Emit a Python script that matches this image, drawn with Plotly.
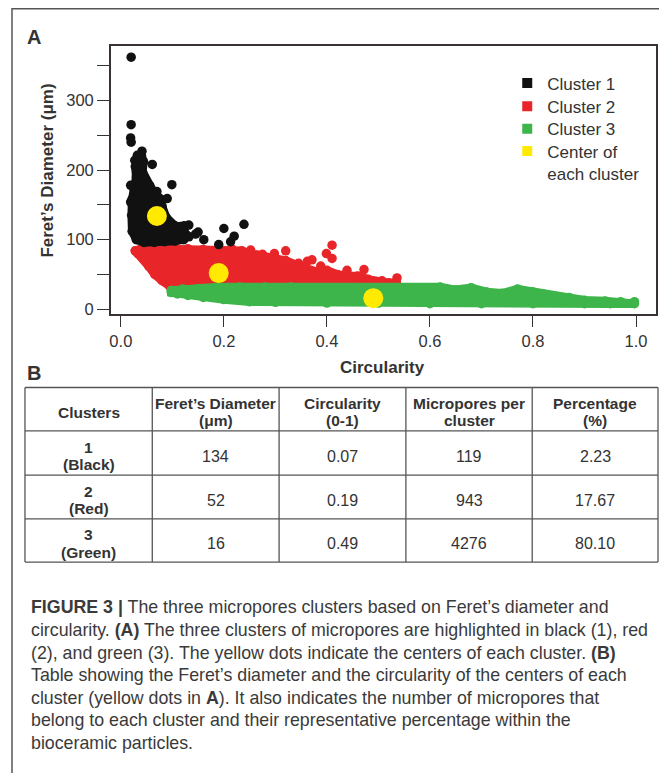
import plotly.graph_objects as go

# ---------------- data ----------------
# Cluster 1 (black): outline of the dense core + individual pores
c1_core_x = [0.022, 0.026, 0.030, 0.028, 0.033, 0.040, 0.044, 0.042, 0.048, 0.056, 0.066, 0.078, 0.080, 0.088, 0.105,
             0.122, 0.128, 0.122, 0.105, 0.085, 0.065, 0.045, 0.030, 0.022, 0.021]
c1_core_y = [158, 172, 190, 205, 217, 221, 212, 198, 186, 178, 166, 158, 148, 132, 120,
             114, 106, 100, 98, 97, 96, 96, 100, 112, 135]
c1_pts_x = [0.020, 0.020, 0.019, 0.020, 0.041, 0.032, 0.027, 0.034, 0.038, 0.061, 0.041, 0.019, 0.045, 0.048, 0.041,
            0.070, 0.099, 0.090, 0.019, 0.116, 0.132, 0.132, 0.150, 0.161, 0.190, 0.200, 0.213, 0.220, 0.239, 0.123, 0.145]
c1_pts_y = [362, 265, 246, 240, 227, 221, 214, 209, 201, 208, 195, 178, 183, 173, 173,
            169, 179, 159, 154, 119, 121, 104, 111, 100, 93, 116, 97, 105, 122, 120, 108]

# Cluster 2 (red)
c2_core_x = [0.028, 0.040, 0.070, 0.100, 0.130, 0.160, 0.190, 0.215, 0.235, 0.250, 0.265, 0.280, 0.300, 0.320, 0.340,
             0.360, 0.380, 0.400, 0.420, 0.440, 0.460, 0.480, 0.500, 0.520, 0.535,
             0.535, 0.450, 0.350, 0.250, 0.150, 0.105, 0.095, 0.080, 0.066, 0.054, 0.042, 0.033]
c2_core_y = [84, 87, 87, 87, 87, 86, 86, 87, 84, 80, 78, 75, 74, 70, 64,
             58, 54, 56, 50, 48, 48, 43, 39, 38, 38,
             32, 31, 31, 31, 31, 31, 33, 41, 50, 62, 74, 80]
c2_pts_x = [0.410, 0.399, 0.410, 0.362, 0.371, 0.320, 0.298, 0.275, 0.252, 0.472, 0.439, 0.507, 0.536, 0.481, 0.345, 0.388]
c2_pts_y = [92, 80, 73, 69, 71, 84, 80, 79, 85, 57, 56, 41, 45, 39, 66, 62]

# Cluster 3 (green)
c3_core_x = [0.098, 0.12, 0.15, 0.19, 0.23, 0.28, 0.33, 0.38, 0.43, 0.48, 0.52, 0.56, 0.59, 0.62, 0.65, 0.68, 0.71, 0.74,
             0.77, 0.80, 0.82, 0.84, 0.87, 0.90, 0.94, 0.97, 0.997,
             0.997, 0.95, 0.90, 0.80, 0.70, 0.60, 0.50, 0.40, 0.30, 0.25, 0.20, 0.16, 0.13, 0.11, 0.098]
c3_core_y = [27, 29, 30, 32, 32, 32, 32, 31, 30, 30, 30, 29, 29, 32, 28, 31, 25, 23,
             29, 25, 22, 19, 17, 13, 12, 11, 11,
             8, 8, 8, 8, 8, 8, 9, 9, 10, 11, 14, 17, 20, 22, 24]

# Cluster centers (yellow)
center_x = [0.07, 0.19, 0.49]
center_y = [134, 52, 16]

legend_names = ["Cluster 1", "Cluster 2", "Cluster 3", "Center of<br>each cluster"]

x_tick_vals = [0.0, 0.2, 0.4, 0.6, 0.8, 1.0]
x_tick_text = ["0.0", "0.2", "0.4", "0.6", "0.8", "1.0"]
y_tick_vals = [0, 100, 200, 300]
y_tick_text = ["0", "100", "200", "300"]

# Table B
table_header = ["Clusters", "Feret’s Diameter\n(μm)", "Circularity\n(0-1)", "Micropores per\ncluster", "Percentage\n(%)"]
table_clusters = ["1\n(Black)", "2\n(Red)", "3\n(Green)"]
table_feret = ["134", "52", "16"]
table_circ = ["0.07", "0.19", "0.49"]
table_count = ["119", "943", "4276"]
table_pct = ["2.23", "17.67", "80.10"]

caption_lines = [
    "<b>FIGURE 3 |</b> The three micropores clusters based on Feret’s diameter and",
    "circularity. <b>(A)</b> The three clusters of micropores are highlighted in black (1), red",
    "(2), and green (3). The yellow dots indicate the centers of each cluster. <b>(B)</b>",
    "Table showing the Feret’s diameter and the circularity of the centers of each",
    "cluster (yellow dots in <b>A</b>). It also indicates the number of micropores that",
    "belong to each cluster and their representative percentage within the",
    "bioceramic particles.",
]

# ---------------- styling ----------------
# page body has an 8px margin: the figure starts at (8, 8) of the window
OFF = 8
W, H = 667 - OFF, 777 - OFF
FONT = "Liberation Sans, Arial, Helvetica, sans-serif"
TXT = "#333333"
BLACK, RED, GREEN, YELLOW = "#111111", "#E8262A", "#3DB54A", "#FFEA00"
DOT = 9.5


def px(x):
    return (x - OFF) / W


def py(y):
    return 1 - (y - OFF) / H


fig = go.Figure()


def cloud(xs, ys, color):
    fig.add_trace(go.Scatter(
        x=list(xs) + list(xs[:1]), y=list(ys) + list(ys[:1]),
        mode="lines+markers", fill="toself", fillcolor=color,
        line=dict(color=color, width=8.5),
        marker=dict(color=color, size=DOT),
        showlegend=False, hoverinfo="skip"))


def dots(xs, ys, color, size=DOT):
    fig.add_trace(go.Scatter(
        x=xs, y=ys, mode="markers",
        marker=dict(color=color, size=size, line=dict(width=0)),
        showlegend=False, hoverinfo="skip"))


cloud(c2_core_x, c2_core_y, RED)
dots(c2_pts_x, c2_pts_y, RED)
cloud(c3_core_x, c3_core_y, GREEN)
cloud(c1_core_x, c1_core_y, BLACK)
dots(c1_pts_x, c1_pts_y, BLACK)
dots(center_x, center_y, YELLOW, size=20)

# one legend per entry so that the rows sit where the reference has them
legend_row_y = [83.3, 106.7, 129.3, 151.7]
legend_ids = ["legend", "legend2", "legend3", "legend4"]
for name, col, lid in zip(legend_names, [BLACK, RED, GREEN, YELLOW], legend_ids):
    fig.add_trace(go.Scatter(x=[None], y=[None], mode="markers", name=name, legend=lid,
                             marker=dict(symbol="square", size=10, color=col)))

axis_common = dict(showline=True, linecolor="#3a3333", linewidth=1.5, mirror=True,
                   showgrid=False, zeroline=False, ticks="outside", tickwidth=1.3,
                   tickcolor="#333333", tickfont=dict(size=16.5, color=TXT, family=FONT))

fig.update_layout(
    width=W, height=H, margin=dict(l=0, r=0, t=0, b=0),
    paper_bgcolor="white", plot_bgcolor="white",
    font=dict(family=FONT, color=TXT),
    xaxis=dict(domain=[px(110), px(656)], range=[-0.0194, 1.0388],
               tickmode="array", tickvals=x_tick_vals, ticktext=x_tick_text,
               ticklen=11, **axis_common),
    yaxis=dict(domain=[py(316), py(46)], range=[-7.3, 378.3],
               tickmode="array", tickvals=y_tick_vals, ticktext=y_tick_text,
               ticklen=12,
               minor=dict(dtick=50, tick0=0, ticklen=12, tickwidth=1.3, tickcolor="#333333", ticks="outside"),
               **axis_common),
)
legend_layout = {}
for lid, yc in zip(legend_ids, legend_row_y):
    legend_layout[lid] = dict(x=px(507), y=py(yc - 17.5), xanchor="left", yanchor="top",
                              bgcolor="rgba(0,0,0,0)", borderwidth=0, valign="top",
                              font=dict(size=17, color=TXT, family=FONT))
fig.update_layout(**legend_layout)

shapes = []
annotations = []

# outer frame (top and left)
shapes.append(dict(type="line", xref="paper", yref="paper", x0=px(11), x1=1, y0=py(8.75), y1=py(8.75),
                   line=dict(color="#555555", width=1.5)))
shapes.append(dict(type="line", xref="paper", yref="paper", x0=px(11), x1=px(11), y0=py(8), y1=0,
                   line=dict(color="#555555", width=1.5)))


def text(x, y, s, size, bold=False, anchor="center", angle=0, color=TXT):
    dy = 0.2 * size if angle == 0 else 0
    annotations.append(dict(xref="paper", yref="paper", x=px(x), y=py(y + dy), text=("<b>%s</b>" % s) if bold else s,
                            showarrow=False, xanchor=anchor, yanchor="middle", textangle=angle,
                            font=dict(size=size, color=color, family=FONT)))


# panel labels and axis titles
text(33, 33, "A", 20, bold=True)
text(33, 370.5, "B", 20, bold=True)
text(46.5, 171, "Feret’s Diameter (μm)", 17, bold=True, angle=-90)
text(382, 365.5, "Circularity", 17, bold=True)

# table
col_edges = [24, 151.5, 278.5, 405.5, 532, 658]
row_edges = [389.5, 433, 477.5, 521.5, 565]
for xe in col_edges:
    shapes.append(dict(type="line", xref="paper", yref="paper", x0=px(xe), x1=px(xe),
                       y0=py(row_edges[0]), y1=py(row_edges[-1]), line=dict(color="#555555", width=1.3)))
for ye in row_edges:
    shapes.append(dict(type="line", xref="paper", yref="paper", x0=px(col_edges[0]), x1=px(col_edges[-1]),
                       y0=py(ye), y1=py(ye), line=dict(color="#555555", width=1.3)))


def cell(ci, ri, s, size, bold):
    xc = (col_edges[ci] + col_edges[ci + 1]) / 2
    yc = (row_edges[ri] + row_edges[ri + 1]) / 2
    lines = s.split("\n")
    gap = 17.6
    for k, ln in enumerate(lines):
        yy = yc + (k - (len(lines) - 1) / 2) * gap
        text(xc, yy, ln, size, bold=bold)


for ci, h in enumerate(table_header):
    cell(ci, 0, h, 15.5, True)
for ri in range(3):
    cell(0, ri + 1, table_clusters[ri], 15.5, True)
    cell(1, ri + 1, table_feret[ri], 16, False)
    cell(2, ri + 1, table_circ[ri], 16, False)
    cell(3, ri + 1, table_count[ri], 16, False)
    cell(4, ri + 1, table_pct[ri], 16, False)

# caption
for i, ln in enumerate(caption_lines):
    text(28, 607 + i * 22.7, ln, 17.8, anchor="left", color="#3a3a3a")

fig.update_layout(shapes=shapes, annotations=annotations)
fig.write_html("out.html")
